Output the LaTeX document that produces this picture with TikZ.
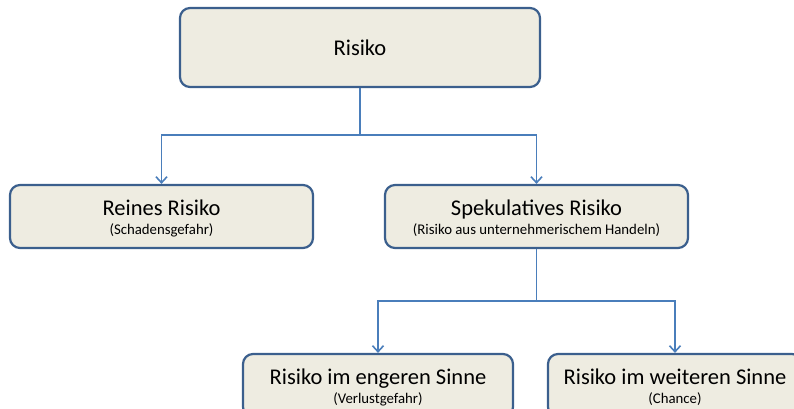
\documentclass[tikz,border=0pt]{standalone}
\usepackage{fontspec}
\setmainfont{Carlito}
\usetikzlibrary{positioning, arrows.meta}

\definecolor{boxblue}{HTML}{3B5F8D}
\definecolor{boxfill}{HTML}{EEECE1}
\definecolor{linkblue}{HTML}{4A7EBB}

\newcommand{\subtext}[1]{{\fontsize{14.8}{16}\selectfont #1}}

\begin{document}
\begin{tikzpicture}[%
		x=1pt, y=-1pt,
		riskbox/.style={
			rectangle,
			rounded corners=10pt,
			draw=boxblue,
			line width=2.2pt,
			fill=boxfill,
			align=center,
			inner sep=0pt,
			minimum height=63pt,
			font=\fontsize{22.5}{24}\selectfont
		},
		link/.style={
			draw=linkblue,
			line width=1.6pt
		},
		linkarrow/.style={
			link,
			-{Straight Barb[length=6pt,width=11pt]}
		}]

		\useasboundingbox (0,0) rectangle (794,409);
		\clip (0,0) rectangle (794,409);

		% BOXES

		\node (risiko) [riskbox, minimum width=360pt, minimum height=79pt] at (360,47.5) {Risiko};
		\node (reines) [riskbox, minimum width=303pt] at (161.5,216.5) {\rule{0pt}{19.5pt}Reines Risiko\\[-5pt]\subtext{(Schadensgefahr)}};
		\node (spekulativ) [riskbox, minimum width=303pt] at (536.5,216.5) {\rule{0pt}{19.5pt}Spekulatives Risiko\\[-5pt]\subtext{(Risiko aus unternehmerischem Handeln)}};
		\node (engeren) [riskbox, minimum width=270pt] at (378,385.5) {\rule{0pt}{19.5pt}Risiko im engeren Sinne\\[-5pt]\subtext{(Verlustgefahr)}};
		\node (weiteren) [riskbox, minimum width=254pt] at (675,385.5) {\rule{0pt}{19.5pt}Risiko im weiteren Sinne\\[-5pt]\subtext{(Chance)}};

		% CONNECTORS

		\coordinate (split-top) at (360,135);
		\coordinate (split-spek) at (536.5,301);

		\draw[link] (risiko.south) -- (split-top);
		\draw[linkarrow] (split-top) -| (reines.north);
		\draw[linkarrow] (split-top) -| (spekulativ.north);

		\draw[link] (spekulativ.south) -- (split-spek);
		\draw[linkarrow] (split-spek) -| (engeren.north);
		\draw[linkarrow] (split-spek) -| (weiteren.north);
\end{tikzpicture}
\end{document}
